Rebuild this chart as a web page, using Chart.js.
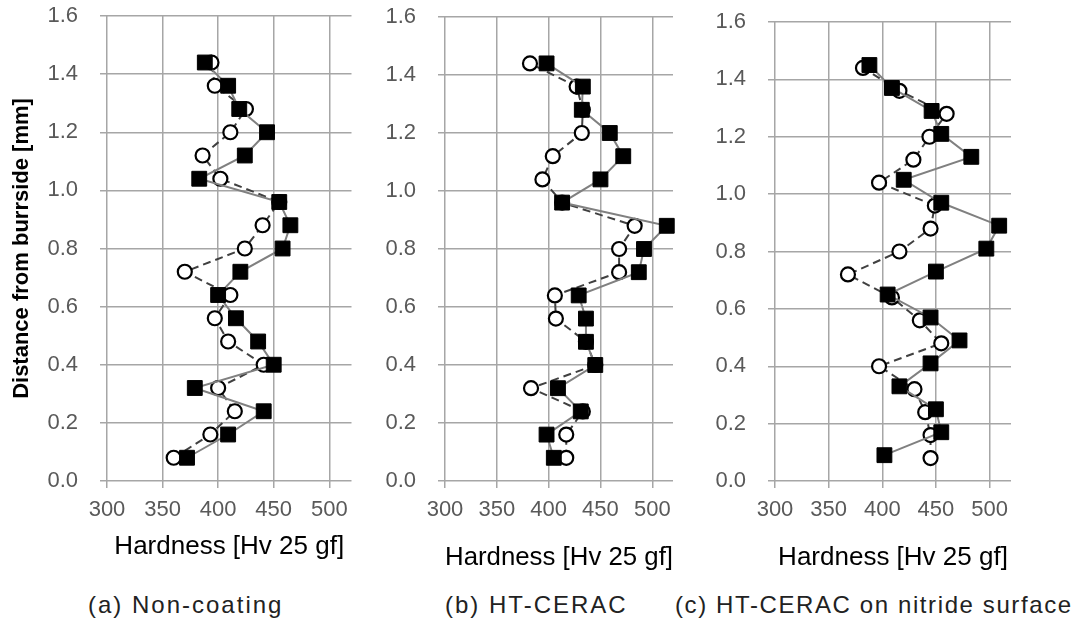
<!DOCTYPE html>
<html>
<head>
<meta charset="utf-8">
<script src="https://cdn.jsdelivr.net/npm/chart.js@4.4.0/dist/chart.umd.min.js"></script>
<style>
  body { margin: 0; background: #fff; width: 1089px; height: 621px; position: relative; overflow: hidden; }
  canvas { position: absolute; top: 0; }
  .cap { position: absolute; top: 591px; font: 24px "Liberation Sans", Arial, sans-serif; color: #222; white-space: nowrap; line-height: 28px; letter-spacing: 2px; }
</style>
</head>
<body>
<canvas id="chartA" width="363" height="580" style="left:0px"></canvas>
<canvas id="chartB" width="363" height="580" style="left:363px"></canvas>
<canvas id="chartC" width="399" height="580" style="left:690px"></canvas>
<div class="cap" style="left:88px">(a) Non-coating</div>
<div class="cap" style="left:445px">(b) HT-CERAC</div>
<div class="cap" style="left:675px; letter-spacing:1.6px">(c) HT-CERAC on nitride surface</div>

<script>
// DADOS (de baixo para cima)
const depth = [0.08, 0.16, 0.24, 0.32, 0.40, 0.48, 0.56, 0.64, 0.72, 0.80, 0.88, 0.96, 1.04, 1.12, 1.20, 1.28, 1.36, 1.44];
const depthC = [0.09, 0.17, 0.25, 0.33, 0.41, 0.49, 0.57, 0.65, 0.73, 0.81, 0.89, 0.97, 1.05, 1.13, 1.21, 1.29, 1.37, 1.45];

// (a) Non-coating
const quadA = [372, 409, 441, 379, 450, 436, 416, 400, 420, 458, 465, 455, 383, 424, 444, 419, 409, 388];
const circA = [360, 393, 415, 400, 441, 409, 397, 411, 370, 424, 440, 455, 402, 386, 411, 425, 397, 394];

// (b) HT-CERAC
const quadB = [405, 398, 431, 409, 445, 436, 436, 429, 487, 492, 514, 413, 450, 472, 459, 432, 433, 398];
const circB = [417, 417, 433, 383, 445, 436, 407, 406, 468, 468, 483, 413, 394, 404, 432, 433, 427, 382];

// (c) HT-CERAC on nitride surface
const quadC = [402, 455, 450, 416, 445, 472, 445, 405, 450, 497, 509, 455, 420, 483, 455, 446, 409, 388];
const circC = [445, 445, 440, 430, 397, 455, 435, 409, 368, 416, 445, 449, 397, 429, 444, 460, 416, 382];

const xTicks = [300, 350, 400, 450, 500];
const yTicks = [0.0, 0.2, 0.4, 0.6, 0.8, 1.0, 1.2, 1.4, 1.6];

const fonte = '"Liberation Sans", Arial, sans-serif';
const corGrade = '#a6a6a6';

function pontos(xs, ys) {
  return xs.map((v, i) => ({ x: v, y: ys[i] }));
}

function grafico(id, quad, circ, yQuad, cfg) {
  const ctx = document.getElementById(id);
  new Chart(ctx, {
    type: 'scatter',
    data: {
      datasets: [
        {
          label: 'quad',
          data: pontos(quad, yQuad),
          showLine: true,
          borderColor: '#808080',
          borderWidth: 2,
          pointStyle: 'rect',
          pointRadius: 10.5,
          pointBackgroundColor: '#000',
          pointBorderColor: '#000',
          pointBorderWidth: 1,
          clip: false,
          order: 0,
        },
        {
          label: 'circ',
          data: pontos(circ, depth),
          showLine: true,
          borderColor: '#404040',
          borderWidth: 2,
          borderDash: [8, 5],
          pointStyle: 'circle',
          pointRadius: 7,
          pointBackgroundColor: '#fff',
          pointBorderColor: '#000',
          pointBorderWidth: 2.2,
          clip: false,
          order: 1,
        },
      ]
    },
    options: {
      responsive: false,
      animation: false,
      events: [],
      layout: { padding: { top: cfg.top, right: cfg.right, bottom: 0, left: 0 } },
      plugins: { legend: { display: false }, tooltip: { enabled: false } },
      scales: {
        x: {
          type: 'linear',
          min: 300,
          max: 520,
          afterBuildTicks: s => { s.ticks = xTicks.map(v => ({ value: v })); },
          ticks: { padding: 9, color: '#595959', font: { family: fonte, size: 22 }, maxRotation: 0 },
          grid: { color: corGrade, lineWidth: 1.5, tickLength: 7 },
          border: { display: false },
          title: {
            display: true,
            text: 'Hardness [Hv 25 gf]',
            color: '#000',
            font: { family: fonte, size: 26 },
            padding: { top: 0, bottom: cfg.titlePad },
          },
          afterFit: s => { s.height = 99; s.paddingLeft = 0; s.paddingRight = 0; },
        },
        y: {
          type: 'linear',
          min: 0,
          max: 1.6,
          afterBuildTicks: s => { s.ticks = yTicks.map(v => ({ value: v })); },
          ticks: { padding: 22, color: '#595959', font: { family: fonte, size: 22 }, callback: v => v.toFixed(1) },
          grid: { color: corGrade, lineWidth: 1.5, tickLength: 7 },
          border: { display: false },
          title: {
            display: cfg.yTitle,
            text: 'Distance from burrside [mm]',
            color: '#000',
            font: { family: fonte, size: 22, weight: 'bold' },
            padding: { top: 9, bottom: 0 },
          },
          // sem isso o padding dos ticks empurra a area do grafico para baixo
          afterFit: s => { s.width = cfg.left; s.paddingTop = 0; s.paddingBottom = 0; },
        }
      }
    }
  });
}

grafico('chartA', quadA, circA, depth, { left: 107, right: 7, top: 16, titlePad: 18, yTitle: true });
grafico('chartB', quadB, circB, depth, { left: 82, right: 53, top: 17, titlePad: 7, yTitle: false });
grafico('chartC', quadC, circC, depthC, { left: 85, right: 78, top: 22, titlePad: 7, yTitle: false });
</script>
</body>
</html>
